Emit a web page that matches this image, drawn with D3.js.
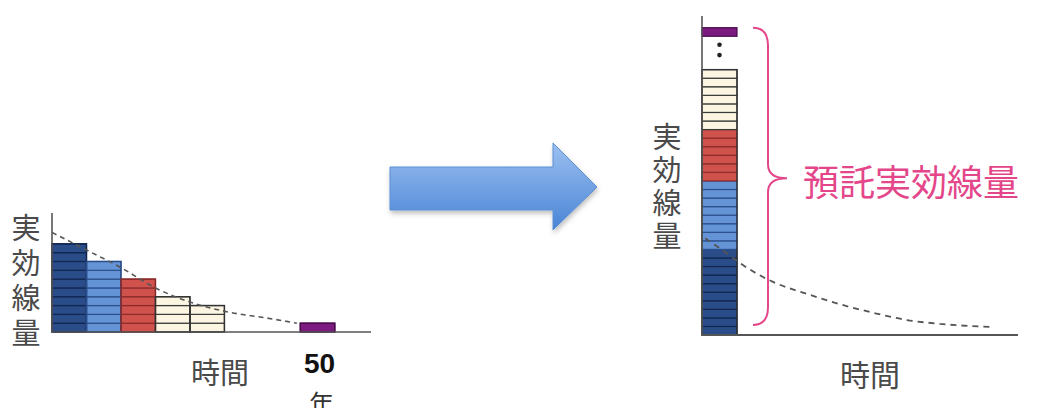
<!DOCTYPE html>
<html>
<head>
<meta charset="utf-8">
<script src="https://cdn.jsdelivr.net/npm/d3@7"></script>
<style>
  html, body { margin: 0; padding: 0; background: #fff; }
  svg { display: block; }
  text { font-family: "Noto Sans CJK JP", "Noto Sans", sans-serif; }
</style>
</head>
<body>
<svg id="chart" width="1049" height="408"></svg>
<script>

// groups of intake (one bar per year slot on the left)
const groups = ["g1", "g2", "g3", "g4", "g5"];
const groupCells = [10, 8, 6, 4, 3];
const groupSlots = [0, 1, 2, 3, 4];

// the last year (50th) bar
const lastSlot = 7.2;
const lastCells = 1;

// dose rate curve, left panel (slot, cells)
const leftCurveX = [0, 1, 2, 3, 4, 5.2, 6.2, 7.1];
const leftCurveY = [11.3, 9.3, 7.3, 5.0, 3.4, 2.2, 1.6, 1.0];

// dose rate curve, right panel (slot, cells)
const rightCurveX = [0.09, 0.86, 1.09, 2.03, 3.0, 3.94, 4.89, 5.86, 6.8, 8.29];
const rightCurveY = [11.3, 9.1, 8.4, 6.2, 4.8, 3.6, 2.6, 1.75, 1.3, 0.94];

// right column: stacked cells, purple at the top after the gap
const gapDots = [32.7, 33.9];
const topCellAt = 34.9;

const yLabel = "実効線量";
const xLabel = "時間";
const yearLabel = ["50", "年"];
const braceLabel = "預託実効線量";

const styles = {
  g1: { fill: "#2a4c88", line: "#112650" },
  g2: { fill: "#6494d6", line: "#2b4f8c" },
  g3: { fill: "#cf524d", line: "#8c2c2a" },
  g4: { fill: "#fcf5e1", line: "#3a3a3a" },
  g5: { fill: "#fcf5e1", line: "#3a3a3a" },
  last: { fill: "#7b1a7f", line: "#4a0c4d" }
};

const svg = d3.select("#chart");

const defs = svg.append("defs");
const grad = defs.append("linearGradient")
    .attr("id", "arrowGrad")
    .attr("x1", 0).attr("y1", 0).attr("x2", 0).attr("y2", 1);
grad.append("stop").attr("offset", "0%").attr("stop-color", "#9cc0f0");
grad.append("stop").attr("offset", "100%").attr("stop-color", "#4a84d6");

const shadow = defs.append("filter").attr("id", "shadow")
    .attr("x", "-10%").attr("y", "-10%").attr("width", "130%").attr("height", "140%");
shadow.append("feDropShadow")
    .attr("dx", 1).attr("dy", 3).attr("stdDeviation", 2.5)
    .attr("flood-color", "#000").attr("flood-opacity", 0.25);

//
// LEFT PANEL
//

const xL = d3.scaleLinear().domain([0, 9.25]).range([52, 371]);
const yL = d3.scaleLinear().domain([0, 13.5]).range([332, 213]);

function cellsFor(key, slot, n, start) {
  return d3.range(n).map(i => ({ key: key, slot: slot, level: start + i }));
}

let leftCells = [];
groups.forEach((g, i) => {
  leftCells = leftCells.concat(cellsFor(g, groupSlots[i], groupCells[i], 0));
});
leftCells = leftCells.concat(cellsFor("last", lastSlot, lastCells, 0));

const left = svg.append("g").attr("id", "left");

left.selectAll("rect.cell")
  .data(leftCells)
  .enter().append("rect")
    .attr("class", "cell")
    .attr("x", d => xL(d.slot))
    .attr("y", d => yL(d.level + 1))
    .attr("width", xL(1) - xL(0))
    .attr("height", yL(0) - yL(1))
    .style("fill", d => styles[d.key].fill)
    .style("stroke", d => styles[d.key].line)
    .style("stroke-width", 1.2);

// bar outlines
const leftBars = groups.map((g, i) => ({ key: g, slot: groupSlots[i], n: groupCells[i] }))
  .concat([{ key: "last", slot: lastSlot, n: lastCells }]);
left.selectAll("rect.bar")
  .data(leftBars)
  .enter().append("rect")
    .attr("class", "bar")
    .attr("x", d => xL(d.slot))
    .attr("y", d => yL(d.n))
    .attr("width", xL(1) - xL(0))
    .attr("height", d => yL(0) - yL(d.n))
    .style("fill", "none")
    .style("stroke", d => d.key === "g4" || d.key === "g5" ? "#333" : styles[d.key].line)
    .style("stroke-width", 1.4);

const lineL = d3.line().x(d => xL(d[0])).y(d => yL(d[1])).curve(d3.curveMonotoneX);
left.append("path")
  .datum(leftCurveX.map((x, i) => [x, leftCurveY[i]]))
  .attr("d", lineL)
  .style("fill", "none")
  .style("stroke", "#555")
  .style("stroke-width", 1.6)
  .style("stroke-dasharray", "5,4");

// axes
left.append("line")
  .attr("x1", xL(0)).attr("x2", xL(0))
  .attr("y1", yL(13.5)).attr("y2", yL(0))
  .style("stroke", "#555").style("stroke-width", 1.6);
left.append("line")
  .attr("x1", xL(0)).attr("x2", xL(9.25))
  .attr("y1", yL(0)).attr("y2", yL(0))
  .style("stroke", "#555").style("stroke-width", 1.6);

function verticalLabel(g, text, x, y0, step, size) {
  const t = g.append("text")
    .attr("text-anchor", "middle")
    .style("font-size", size + "px")
    .style("fill", "#4a4a4a");
  text.split("").forEach((c, i) => {
    t.append("tspan").attr("x", x).attr("y", y0 + i * step).text(c);
  });
}

verticalLabel(left, yLabel, 26, 239, 35, 29);

left.append("text")
  .attr("x", 220).attr("y", 384)
  .attr("text-anchor", "middle")
  .style("font-size", "29px")
  .style("fill", "#4a4a4a")
  .text(xLabel);

left.append("text")
  .attr("x", xL(lastSlot + 0.5) + 2).attr("y", 373)
  .attr("text-anchor", "middle")
  .style("font-family", "'Liberation Sans', Arial, sans-serif")
  .style("font-weight", "bold")
  .style("font-size", "28px")
  .style("fill", "#111")
  .text(yearLabel[0]);
left.append("text")
  .attr("x", xL(lastSlot + 0.5) + 4).attr("y", 413)
  .attr("text-anchor", "middle")
  .style("font-size", "25px")
  .style("fill", "#333")
  .text(yearLabel[1]);

//
// ARROW
//

svg.append("path")
  .attr("d", "M390,167 L553,167 L553,143 L597,187 L553,230 L553,210 L390,210 Z")
  .style("fill", "url(#arrowGrad)")
  .style("stroke", "#5b8fd4")
  .style("stroke-width", 1)
  .attr("filter", "url(#shadow)");

//
// RIGHT PANEL
//

const xR = d3.scaleLinear().domain([0, 9.03]).range([702, 1018]);
const yR = d3.scaleLinear().domain([0, 36.8]).range([335, 20]);

let rightCells = [];
let level = 0;
groups.forEach((g, i) => {
  rightCells = rightCells.concat(cellsFor(g, 0, groupCells[i], level));
  level += groupCells[i];
});
const stackTop = level;
rightCells = rightCells.concat(cellsFor("last", 0, lastCells, topCellAt));

const right = svg.append("g").attr("id", "right");

right.selectAll("rect.cell")
  .data(rightCells)
  .enter().append("rect")
    .attr("class", "cell")
    .attr("x", d => xR(d.slot))
    .attr("y", d => yR(d.level + 1))
    .attr("width", xR(1) - xR(0))
    .attr("height", yR(0) - yR(1))
    .style("fill", d => styles[d.key].fill)
    .style("stroke", d => styles[d.key].line)
    .style("stroke-width", 1.2);

right.append("rect")
  .attr("x", xR(0)).attr("y", yR(stackTop))
  .attr("width", xR(1) - xR(0))
  .attr("height", yR(0) - yR(stackTop))
  .style("fill", "none")
  .style("stroke", "#333")
  .style("stroke-width", 1.4);

right.selectAll("circle.dot")
  .data(gapDots)
  .enter().append("circle")
    .attr("class", "dot")
    .attr("cx", xR(0.5))
    .attr("cy", d => yR(d))
    .attr("r", 2.3)
    .style("fill", "#222");

const lineR = d3.line().x(d => xR(d[0])).y(d => yR(d[1])).curve(d3.curveMonotoneX);
right.append("path")
  .datum(rightCurveX.map((x, i) => [x, rightCurveY[i]]))
  .attr("d", lineR)
  .style("fill", "none")
  .style("stroke", "#555")
  .style("stroke-width", 1.8)
  .style("stroke-dasharray", "6,5");

right.append("line")
  .attr("x1", xR(0)).attr("x2", xR(0))
  .attr("y1", 16).attr("y2", yR(0))
  .style("stroke", "#555").style("stroke-width", 1.6);
right.append("line")
  .attr("x1", xR(0)).attr("x2", xR(9.03))
  .attr("y1", yR(0)).attr("y2", yR(0))
  .style("stroke", "#555").style("stroke-width", 2);

verticalLabel(right, yLabel, 667, 148, 33, 29);

right.append("text")
  .attr("x", 870).attr("y", 386)
  .attr("text-anchor", "middle")
  .style("font-size", "30px")
  .style("fill", "#4a4a4a")
  .text(xLabel);

// brace spanning the whole column
const bTop = yR(topCellAt + 1), bBot = yR(0) - 10, bMid = (bTop + bBot) / 2 + 2;
const bx0 = 753, bx1 = 768, bx2 = 787;
const brace = [
  `M${bx0},${bTop}`,
  `Q${bx1},${bTop} ${bx1},${bTop + 18}`,
  `L${bx1},${bMid - 14}`,
  `Q${bx1},${bMid} ${bx2},${bMid}`,
  `Q${bx1},${bMid} ${bx1},${bMid + 14}`,
  `L${bx1},${bBot - 18}`,
  `Q${bx1},${bBot} ${bx0},${bBot}`
].join(" ");
right.append("path")
  .attr("d", brace)
  .style("fill", "none")
  .style("stroke", "#e4468a")
  .style("stroke-width", 2);

right.append("text")
  .attr("x", 803).attr("y", 196)
  .style("font-size", "36px")
  .style("fill", "#e4468a")
  .text(braceLabel);

</script>
</body>
</html>
